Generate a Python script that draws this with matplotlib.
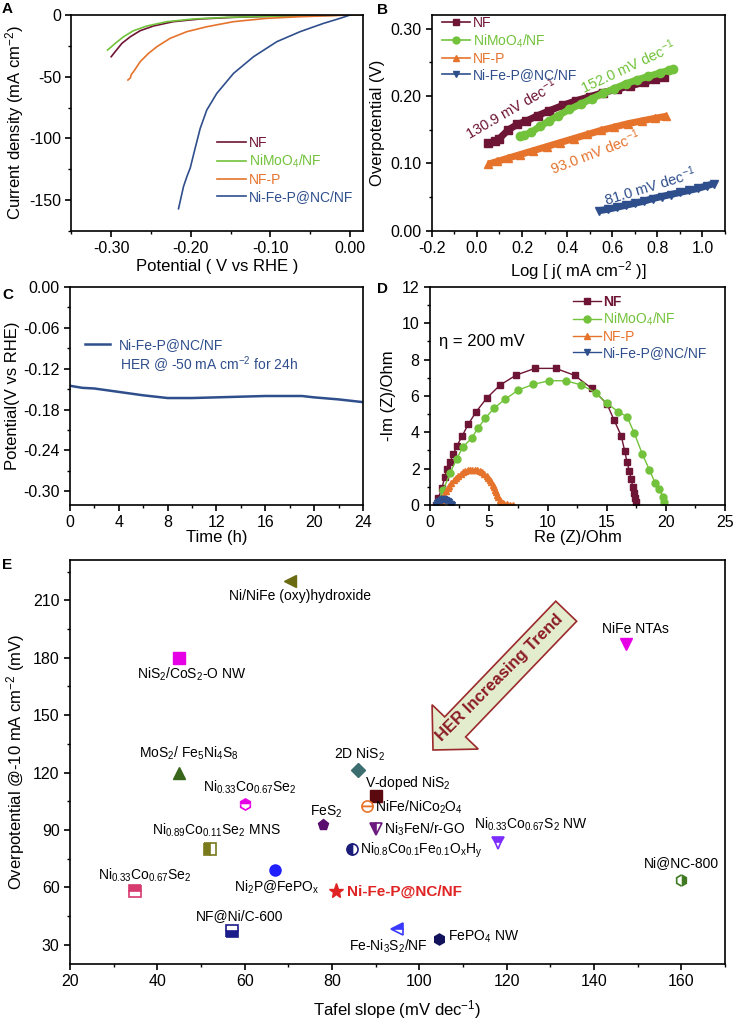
import matplotlib.pyplot as plt
import matplotlib.patches as mpatches
from matplotlib.lines import Line2D
from matplotlib.ticker import MultipleLocator, FormatStrFormatter

plt.rcParams['font.family'] = ['Liberation Sans', 'DejaVu Sans']
plt.rcParams['mathtext.fontset'] = 'custom'
plt.rcParams['mathtext.rm'] = 'Liberation Sans'
plt.rcParams['mathtext.it'] = 'Liberation Sans:italic'
plt.rcParams['mathtext.bf'] = 'Liberation Sans:bold'
plt.rcParams['axes.unicode_minus'] = False
plt.rcParams['axes.linewidth'] = 1.2
for a in ('xtick', 'ytick'):
    plt.rcParams[a + '.major.width'] = 1.2
    plt.rcParams[a + '.minor.width'] = 1.0
    plt.rcParams[a + '.major.size'] = 4
    plt.rcParams[a + '.minor.size'] = 2.5
    plt.rcParams[a + '.labelsize'] = 11.5
plt.rcParams['axes.labelsize'] = 12

# ---- data ----
names = ['NF', 'NiMoO$_4$/NF', 'NF-P', 'Ni-Fe-P@NC/NF']
cols = ['#6e1434', '#72c23b', '#e5732c', '#2f4f8c']

# A: polarization curves
lsv_nf_v = [-0.300, -0.295, -0.2866, -0.276, -0.2636, -0.2469, -0.222, -0.188, -0.146, -0.0837, 0.0, 0.016]
lsv_nf_j = [-33.8, -29.7, -23.0, -17.6, -12.7, -8.9, -5.4, -3.2, -1.9, -0.8, 0.0, 0.3]
lsv_mo_v = [-0.3046, -0.295, -0.2845, -0.272, -0.2552, -0.230, -0.1967, -0.1548, -0.0837, 0.0, 0.016]
lsv_mo_j = [-28.4, -23.0, -17.6, -12.7, -8.9, -5.4, -3.2, -1.9, -0.8, 0.0, 0.3]
lsv_nfp_v = [-0.279, -0.276, -0.275, -0.274, -0.272, -0.2636, -0.253, -0.2427, -0.226, -0.205, -0.180,
             -0.1464, -0.1046, -0.063, 0.0, 0.016]
lsv_nfp_j = [-52.7, -51.0, -48.6, -47.5, -46.0, -37.8, -31.0, -25.7, -18.9, -13.5, -9.5, -5.4, -2.7, -1.4,
             0.0, 0.2]
lsv_nfe_v = [-0.2155, -0.2092, -0.205, -0.2008, -0.1946, -0.1883, -0.180, -0.1674, -0.1464, -0.1213, -0.092,
             -0.0628, -0.0335, -0.0126, 0.0, 0.008, 0.016]
lsv_nfe_j = [-157, -139, -131, -124, -108, -92, -77, -63.5, -47.3, -33.8, -21.6, -13.5, -6.8, -2.7, 0.0, 1.0, 0.5]

# B: Tafel plots
tf_nf_x = [0.05, 0.08, 0.10, 0.14, 0.18, 0.22, 0.27, 0.32, 0.38, 0.44, 0.50, 0.56, 0.62, 0.68, 0.74, 0.79, 0.83]
tf_nf_y = [0.130, 0.133, 0.137, 0.150, 0.158, 0.163, 0.171, 0.178, 0.186, 0.193, 0.199, 0.205, 0.210, 0.215,
           0.220, 0.225, 0.228]
tf_mo_x = [0.19, 0.21, 0.24, 0.28, 0.32, 0.36, 0.41, 0.46, 0.51, 0.56, 0.61, 0.66, 0.71, 0.76, 0.81, 0.85, 0.87]
tf_mo_y = [0.140, 0.142, 0.146, 0.155, 0.163, 0.171, 0.180, 0.188, 0.196, 0.204, 0.211, 0.218, 0.224, 0.229,
           0.234, 0.238, 0.240]
tf_nfp_x = [0.05, 0.09, 0.14, 0.19, 0.25, 0.31, 0.37, 0.43, 0.49, 0.55, 0.61, 0.67, 0.73, 0.79, 0.84]
tf_nfp_y = [0.099, 0.103, 0.108, 0.113, 0.119, 0.125, 0.131, 0.137, 0.143, 0.149, 0.154, 0.159, 0.163, 0.167, 0.170]
tf_nfe_x = [0.54, 0.58, 0.62, 0.66, 0.70, 0.74, 0.78, 0.82, 0.86, 0.90, 0.94, 0.98, 1.02, 1.05]
tf_nfe_y = [0.030, 0.032, 0.035, 0.038, 0.041, 0.044, 0.048, 0.051, 0.054, 0.057, 0.060, 0.063, 0.067, 0.070]
slope_txt = ['130.9 mV dec$^{-1}$', '152.0 mV dec$^{-1}$', '93.0 mV dec$^{-1}$', '81.0 mV dec$^{-1}$']

# C: stability
st_t = [0, 1, 2, 4, 6, 8, 10, 12, 14, 16, 18, 19, 20, 22, 24]
st_v = [-0.145, -0.148, -0.149, -0.154, -0.159, -0.163, -0.163, -0.162, -0.161, -0.160, -0.160, -0.160, -0.162,
        -0.165, -0.169]

# D: Nyquist
ny_nf_re = [0.5, 0.7, 1.0, 1.27, 1.46, 1.69, 1.97, 2.3, 2.73, 3.24, 3.92, 4.82, 5.94, 7.3, 8.9, 10.65, 12.25,
            13.7, 15.0, 15.6, 16.2, 16.5, 16.7, 16.9, 17.04, 17.2, 17.3, 17.4, 17.5]
ny_nf_im = [0.0, 0.37, 0.92, 1.56, 2.0, 2.35, 2.79, 3.27, 3.8, 4.44, 5.14, 5.89, 6.6, 7.15, 7.52, 7.52, 7.14,
            6.42, 5.56, 4.68, 3.82, 2.99, 2.35, 1.87, 1.43, 1.0, 0.68, 0.37, 0.15]
ny_mo_re = [0.7, 1.13, 1.69, 2.25, 2.76, 3.52, 4.06, 4.68, 5.44, 6.39, 7.49, 8.76, 10.08, 11.49, 12.82, 14.03,
            15.0, 15.94, 16.7, 17.3, 18.0, 18.6, 19.1, 19.38, 19.75, 19.8]
ny_mo_im = [0.18, 0.83, 1.74, 2.51, 3.17, 3.67, 4.22, 4.77, 5.34, 5.83, 6.33, 6.64, 6.84, 6.84, 6.61, 6.18,
            5.6, 5.14, 4.86, 3.98, 2.8, 1.93, 1.19, 0.88, 0.46, 0.18]
ny_nfp_re = [0.8, 0.9, 1.0, 1.1, 1.2, 1.35, 1.5, 1.65, 1.8, 2.0, 2.2, 2.4, 2.6, 2.8, 3.0, 3.2, 3.4, 3.6, 3.8, 4.0,
             4.2, 4.4, 4.6, 4.8, 4.95, 5.1, 5.2, 5.3, 5.4, 5.5, 5.6, 5.7, 5.8, 5.9, 6.0, 6.15, 6.3, 6.5, 6.8, 7.0]
ny_nfp_im = [0.0, 0.12, 0.27, 0.42, 0.56, 0.75, 0.92, 1.07, 1.2, 1.36, 1.5, 1.62, 1.72, 1.8, 1.86, 1.9, 1.92,
             1.93, 1.93, 1.92, 1.88, 1.82, 1.73, 1.6, 1.48, 1.36, 1.25, 1.12, 0.98, 0.85, 0.72, 0.56, 0.42,
             0.28, 0.17, 0.09, 0.05, 0.03, 0.02, 0.01]
ny_nfe_re = [0.5, 0.6, 0.7, 0.8, 0.9, 1.0, 1.1, 1.2, 1.3, 1.4, 1.5, 1.6, 1.7, 1.8, 1.9]
ny_nfe_im = [0.02, 0.1, 0.18, 0.24, 0.28, 0.3, 0.31, 0.31, 0.3, 0.27, 0.22, 0.15, 0.08, 0.03, 0.01]

# E: comparison
e_names = ['Ni/NiFe (oxy)hydroxide', 'NiS$_2$/CoS$_2$-O NW', 'MoS$_2$/ Fe$_5$Ni$_4$S$_8$',
           'Ni$_{0.33}$Co$_{0.67}$Se$_2$', '2D NiS$_2$', 'V-doped NiS$_2$', 'NiFe/NiCo$_2$O$_4$', 'FeS$_2$',
           'Ni$_3$FeN/r-GO', 'Ni$_{0.8}$Co$_{0.1}$Fe$_{0.1}$O$_{\\mathrm{x}}$H$_{\\mathrm{y}}$',
           'Ni$_{0.89}$Co$_{0.11}$Se$_2$ MNS', 'Ni$_{0.33}$Co$_{0.67}$Se$_2$', 'Ni$_2$P@FePO$_{\\mathrm{x}}$',
           'NF@Ni/C-600', 'Ni-Fe-P@NC/NF', 'Fe-Ni$_3$S$_2$/NF', 'FePO$_4$ NW',
           'Ni$_{0.33}$Co$_{0.67}$S$_2$ NW', 'Ni@NC-800', 'NiFe NTAs']
e_tafel = [70.5, 45, 45, 60, 86, 90, 88, 78, 90, 84.6, 52, 35, 67, 57, 81, 94.8, 104.6, 118, 160, 147.3]
e_eta = [220, 180, 120, 103.5, 121.5, 108, 102.5, 92.5, 90.5, 80.3, 80.3, 58.2, 69, 37, 58, 38.2, 33.3, 83.4, 64, 187]

# E styles
e_marker = ['<', 's', '^', 'h', 'D', 's', 'o', 'p', 'v', 'o', 's', 's', 'o', 's', '*', '<', 'h', 'v', 'h', 'v']
e_fill = ['full', 'full', 'full', 'top', 'full', 'full', 'open', 'full', 'left', 'left', 'left', 'top',
          'full', 'bottom', 'full', 'top', 'full', 'top', 'right', 'full']
e_color = ['#6b6b12', '#e600e6', '#38661a', '#e600e6', '#3c6e70', '#5a0a0e', '#e8742c', '#5a0d6e', '#6b1a7d',
           '#1c1c7a', '#7a7a1c', '#d63a6e', '#1f1fff', '#1c1c8a', '#e02424', '#3a3aff', '#12125c', '#7d2cff',
           '#3f7a22', '#e600e6']
e_off = [(7, -11, 'center'), (9, -12, 'center'), (7, 14, 'center'), (4, 12, 'center'), (1, 11, 'center'),
         (-8, 9, 'left'), (6, -1, 'left'), (2, 10, 'center'), (6, 0, 'left'), (6, -1, 'left'),
         (5, 13, 'center'), (7, 11, 'center'), (1, -12, 'center'), (6, 11, 'center'), (8, 0, 'left'),
         (-6, -12, 'center'), (6, 1, 'left'), (24, 13, 'center'), (0, 12, 'center'), (7, 11, 'center')]


def style(ax, xmaj, xmin, ymaj, ymin, xfmt, yfmt):
    ax.xaxis.set_major_locator(MultipleLocator(xmaj))
    ax.xaxis.set_minor_locator(MultipleLocator(xmin))
    ax.yaxis.set_major_locator(MultipleLocator(ymaj))
    ax.yaxis.set_minor_locator(MultipleLocator(ymin))
    ax.xaxis.set_major_formatter(FormatStrFormatter(xfmt))
    ax.yaxis.set_major_formatter(FormatStrFormatter(yfmt))
    ax.tick_params(which='both', direction='out', top=False, right=False)


fig = plt.figure(figsize=(7.36, 10.21), dpi=100)
axA = fig.add_axes([0.097, 0.7738, 0.396, 0.2115])
axB = fig.add_axes([0.5866, 0.7738, 0.3985, 0.2115])
axC = fig.add_axes([0.0951, 0.5054, 0.398, 0.2135])
axD = fig.add_axes([0.5842, 0.5054, 0.4008, 0.2135])
axE = fig.add_axes([0.0951, 0.0558, 0.8899, 0.3957])

# ---- A ----
for v, j, c, n in zip([lsv_nf_v, lsv_mo_v, lsv_nfp_v, lsv_nfe_v], [lsv_nf_j, lsv_mo_j, lsv_nfp_j, lsv_nfe_j],
                      cols, names):
    axA.plot(v, j, color=c, lw=1.2, label=n)
axA.set_xlim(-0.35, 0.016)
axA.set_ylim(-175, 0)
style(axA, 0.1, 0.05, 50, 25, '%.2f', '%d')
axA.set_xlabel('Potential ( V vs RHE )', labelpad=2)
axA.set_ylabel('Current density (mA cm$^{-2}$)', labelpad=2)
axA.legend(loc='upper left', bbox_to_anchor=(0.50, 0.44), frameon=False, fontsize=10, labelcolor='linecolor',
           handlelength=2.1, handletextpad=0.2, labelspacing=0.2, borderpad=0, borderaxespad=0)

# ---- B ----
mk = ['s', 'o', '^', 'v']
handles = []
for x, y, c, m, n in zip([tf_nf_x, tf_mo_x, tf_nfp_x, tf_nfe_x], [tf_nf_y, tf_mo_y, tf_nfp_y, tf_nfe_y],
                         cols, mk, names):
    axB.plot(x, y, color=c, lw=5, marker=m, ms=6, solid_capstyle='butt')
    handles.append(Line2D([], [], color=c, lw=1.2, marker=m, ms=5, label=n))
axB.set_xlim(-0.2, 1.1)
axB.set_ylim(0, 0.32)
style(axB, 0.2, 0.1, 0.1, 0.05, '%.1f', '%.2f')
axB.set_xlabel('Log [ j( mA cm$^{-2}$ )]', labelpad=2)
axB.set_ylabel('Overpotential (V)', labelpad=4)
axB.legend(handles=handles, loc='upper left', bbox_to_anchor=(0.035, 0.995), frameon=False, fontsize=10,
           labelcolor='linecolor', handlelength=2.0, handletextpad=0.2, labelspacing=0.15, borderpad=0,
           borderaxespad=0)
slope_pos = [(0.15, 0.180, 30), (0.671, 0.244, 25), (0.524, 0.116, 21), (0.767, 0.067, 17)]
for (x, y, r), t, c in zip(slope_pos, slope_txt, cols):
    axB.text(x, y, t, color=c, fontsize=10.5, rotation=r, ha='center', va='center', rotation_mode='anchor')

# ---- C ----
axC.plot(st_t, st_v, color=cols[3], lw=1.8, label='Ni-Fe-P@NC/NF')
axC.set_xlim(0, 24)
axC.set_ylim(-0.32, 0.0)
style(axC, 4, 2, 0.06, 0.03, '%d', '%.2f')
axC.set_xlabel('Time (h)', labelpad=0)
axC.set_ylabel('Potential(V vs RHE)', labelpad=2)
axC.legend(loc='upper left', bbox_to_anchor=(0.05, 0.765), frameon=False, fontsize=10, labelcolor='linecolor',
           handlelength=1.8, handletextpad=0.7, borderpad=0, borderaxespad=0)
axC.text(0.171, 0.642, 'HER @ -50 mA cm$^{-2}$ for 24h', transform=axC.transAxes, color=cols[3], fontsize=10,
         va='center')

# ---- D ----
for x, y, c, m, n in zip([ny_nf_re, ny_mo_re, ny_nfp_re, ny_nfe_re], [ny_nf_im, ny_mo_im, ny_nfp_im, ny_nfe_im],
                         cols, mk, names):
    axD.plot(x, y, color=c, lw=1.0, marker=m, ms=5, label=n)
axD.set_xlim(0, 25)
axD.set_ylim(0, 12)
style(axD, 5, 2.5, 2, 1, '%d', '%d')
axD.set_xlabel('Re (Z)/Ohm', labelpad=0)
axD.set_ylabel('-Im (Z)/Ohm', labelpad=4)
leg = axD.legend(loc='upper left', bbox_to_anchor=(0.485, 0.965), frameon=False, fontsize=10,
                 labelcolor='linecolor', handlelength=2.0, handletextpad=0.15, labelspacing=0.15, borderpad=0,
                 borderaxespad=0)
leg.get_texts()[0].set_fontweight('bold')
axD.text(0.03, 0.75, '\u03b7 = 200 mV', transform=axD.transAxes, fontsize=12, va='center')

# ---- E ----
for n, x, y, m, f, c, (dx, dy, ha) in zip(e_names, e_tafel, e_eta, e_marker, e_fill, e_color, e_off):
    ms = 11 if m == '*' else (7 if m == 'D' else 8)
    if f == 'open':
        axE.plot(x, y, marker=m, ms=ms, color=c, mfc='white', mfcalt='white', fillstyle='top', mew=1.2)
    elif f == 'full':
        axE.plot(x, y, marker=m, ms=ms, color=c, mec=c, mew=1.0)
    else:
        axE.plot(x, y, marker=m, ms=ms, color=c, mec=c, fillstyle=f, mfcalt='white', mew=1.2)
    if n == 'Ni-Fe-P@NC/NF':
        axE.annotate(n, (x, y), xytext=(dx, dy), textcoords='offset points', ha=ha, va='center', fontsize=11,
                     color='#e02424', fontweight='bold')
    else:
        axE.annotate(n, (x, y), xytext=(dx, dy), textcoords='offset points', ha=ha, va='center', fontsize=10)
axE.set_xlim(20, 170)
axE.set_ylim(20, 231)
style(axE, 20, 10, 30, 15, '%d', '%d')
axE.set_xlabel('Tafel slope (mV dec$^{-1}$)', labelpad=6)
axE.set_ylabel('Overpotential @-10 mA cm$^{-2}$ (mV)', labelpad=4)

arrow = mpatches.FancyArrow(5.662, 4.098, -1.332, -1.388, width=0.29, head_width=0.64, head_length=0.32,
                            length_includes_head=True, transform=fig.dpi_scale_trans, fc='#e4ecce',
                            ec='#9b2a2a', lw=1.2, zorder=5)
fig.add_artist(arrow)
fig.text(5.00 / 7.36, 1 - 678 / 1021, 'HER Increasing Trend', rotation=45, ha='center', va='center',
         fontsize=12, fontweight='bold', color='#8b1c24', zorder=6, rotation_mode='anchor')

# panel letters
for lab, x, y in [('A', 2, 2), ('B', 377, 3), ('C', 2, 288), ('D', 377, 282), ('E', 2, 558)]:
    fig.text(x / 736, 1 - y / 1021, lab, fontsize=11, fontweight='bold', va='top', ha='left')

fig.savefig('out.png', dpi=100)
